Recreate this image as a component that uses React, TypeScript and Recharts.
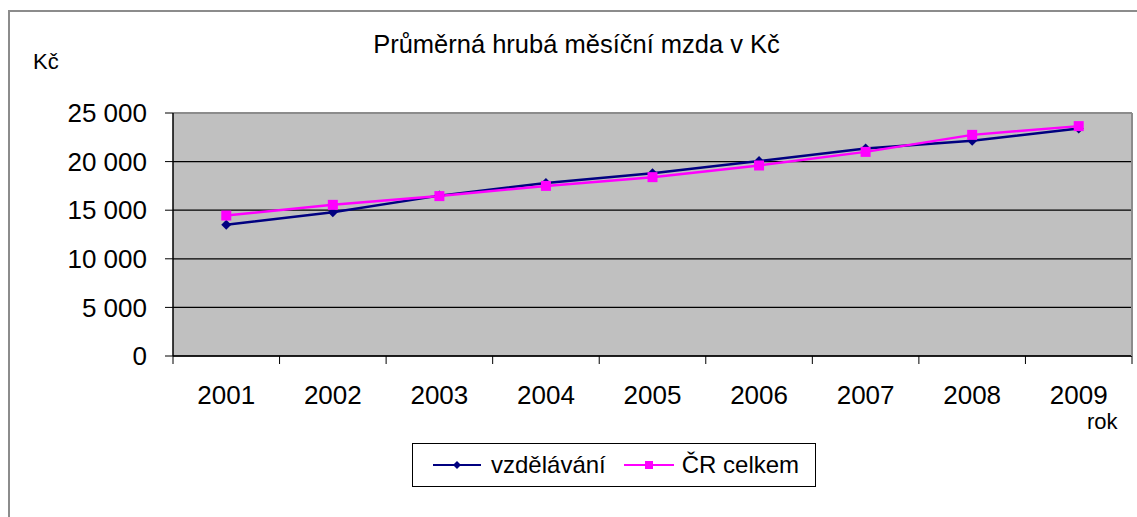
import React from "react";
import {
  CartesianGrid,
  Legend,
  Line,
  LineChart,
  ReferenceLine,
  XAxis,
  YAxis,
} from "recharts";

const years = ["2001", "2002", "2003", "2004", "2005", "2006", "2007", "2008", "2009"];
const vzdelavani = [13500, 14800, 16500, 17800, 18800, 20050, 21350, 22150, 23400];
const crCelkem = [14450, 15550, 16450, 17500, 18400, 19600, 21000, 22750, 23650];
const yTicks = [0, 5000, 10000, 15000, 20000, 25000];

const data = years.map((rok, i) => ({
  rok,
  vzd: vzdelavani[i],
  cr: crCelkem[i],
}));

const FONT = '"Liberation Sans", Arial, sans-serif';
const NAVY = "#000080";
const PINK = "#ff00ff";

const fmt = (v: number) => String(v).replace(/\B(?=(\d{3})+(?!\d))/g, " ");

// tick marks sit between categories, labels in the middle
function YearTick(props: any) {
  const { x, y, payload, index, width } = props;
  const half = (width ?? 959) / years.length / 2;
  return (
    <g>
      <line x1={x - half} x2={x - half} y1={y} y2={y + 8} stroke="#000" />
      {index === years.length - 1 && (
        <line x1={x + half} x2={x + half} y1={y} y2={y + 8} stroke="#000" />
      )}
      <text x={x} y={y + 48} textAnchor="middle" fontSize={26} fill="#000" fontFamily={FONT}>
        {payload.value}
      </text>
    </g>
  );
}

function Diamond({ cx, cy, size = 5 }: any) {
  if (cx == null || cy == null) return null;
  return (
    <polygon
      points={`${cx},${cy - size} ${cx + size},${cy} ${cx},${cy + size} ${cx - size},${cy}`}
      fill={NAVY}
    />
  );
}

function Square({ cx, cy, size = 9 }: any) {
  if (cx == null || cy == null) return null;
  return <rect x={cx - size / 2} y={cy - size / 2} width={size} height={size} fill={PINK} />;
}

function LegendBox() {
  return (
    <div
      style={{
        boxSizing: "border-box",
        width: 404,
        height: 44,
        border: "1px solid #000",
        background: "#fff",
        display: "flex",
        alignItems: "center",
        fontFamily: FONT,
        fontSize: 24,
        color: "#000",
        paddingLeft: 20,
      }}
    >
      <svg width={48} height={12} style={{ marginRight: 10 }}>
        <line x1={0} x2={48} y1={6} y2={6} stroke={NAVY} strokeWidth={2} />
        <Diamond cx={24} cy={6} size={4} />
      </svg>
      <span>vzdělávání</span>
      <svg width={50} height={12} style={{ marginLeft: 18, marginRight: 8 }}>
        <line x1={0} x2={50} y1={6} y2={6} stroke={PINK} strokeWidth={2} />
        <Square cx={25} cy={6} size={8} />
      </svg>
      <span>ČR celkem</span>
    </div>
  );
}

export default function App() {
  return (
    <div
      style={{
        position: "absolute",
        left: 0,
        top: 0,
        width: 1137,
        height: 517,
        overflow: "hidden",
        background: "#fff",
        fontFamily: FONT,
      }}
    >
      <div
        style={{
          position: "absolute",
          left: 8,
          top: 10,
          width: 1200,
          height: 600,
          border: "2px solid #8c8c8c",
        }}
      />
      <LineChart
        width={1137}
        height={517}
        data={data}
        margin={{ top: 113, right: 4, bottom: 101, left: 93 }}
        style={{ position: "absolute", left: 0, top: 0 }}
      >
        <CartesianGrid
          yAxisId="l"
          vertical={false}
          stroke="#000"
          strokeWidth={1.2}
          fill="#c0c0c0"
          fillOpacity={1}
        />
        <XAxis
          dataKey="rok"
          scale="band"
          height={60}
          interval={0}
          tickLine={false}
          tickSize={0}
          tickMargin={0}
          axisLine={{ stroke: "#000", strokeWidth: 1.5 }}
          tick={<YearTick />}
        />
        <YAxis
          yAxisId="l"
          type="number"
          domain={[0, 25000]}
          ticks={yTicks}
          width={80}
          tickSize={8}
          tickMargin={18}
          tickFormatter={fmt}
          axisLine={{ stroke: "#000", strokeWidth: 1.5 }}
          tickLine={{ stroke: "#000" }}
          tick={{ fontSize: 26, fill: "#000", fontFamily: FONT }}
        />
        <YAxis
          yAxisId="r"
          orientation="right"
          type="number"
          domain={[0, 25000]}
          width={1}
          tick={false}
          tickLine={false}
          axisLine={{ stroke: "#8c8c8c", strokeWidth: 2 }}
        />
        <ReferenceLine yAxisId="l" y={25000} stroke="#8c8c8c" strokeWidth={2} />
        <Line
          yAxisId="l"
          type="linear"
          dataKey="vzd"
          name="vzdělávání"
          stroke={NAVY}
          strokeWidth={2.5}
          dot={<Diamond size={5} />}
          activeDot={false}
          isAnimationActive={false}
        />
        <Line
          yAxisId="l"
          type="linear"
          dataKey="cr"
          name="ČR celkem"
          stroke={PINK}
          strokeWidth={2.5}
          dot={<Square size={10} />}
          activeDot={false}
          isAnimationActive={false}
        />
        <Legend
          layout="vertical"
          align="center"
          verticalAlign="middle"
          wrapperStyle={{ left: 412, top: 443, width: 404, height: 44 }}
          content={() => <LegendBox />}
        />
      </LineChart>
      <div
        style={{
          position: "absolute",
          left: 0,
          width: 1153,
          top: 32,
          textAlign: "center",
          fontSize: 25.5,
          lineHeight: 1,
          color: "#000",
        }}
      >
        Průměrná hrubá měsíční mzda v Kč
      </div>
      <div style={{ position: "absolute", left: 33, top: 51, fontSize: 22, lineHeight: 1 }}>Kč</div>
      <div style={{ position: "absolute", left: 1087, top: 411, fontSize: 22, lineHeight: 1 }}>rok</div>
    </div>
  );
}
